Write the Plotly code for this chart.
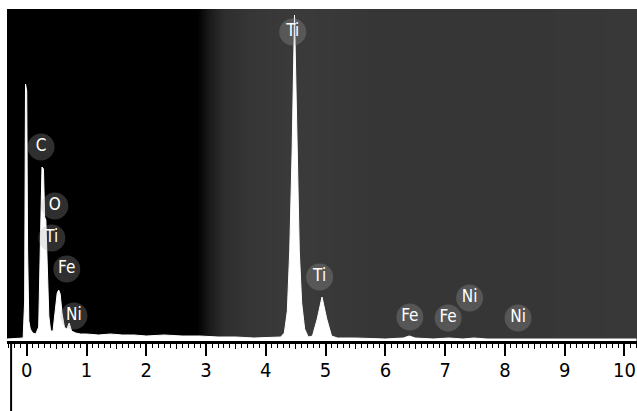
import plotly.graph_objects as go

# ---- spectrum (energy in keV, counts in arbitrary units) ----
energy = [-0.33, -0.06, -0.035, -0.02, 0.0, 0.015, 0.035, 0.06, 0.10, 0.15, 0.20,
          0.23, 0.255, 0.28, 0.30, 0.32, 0.345, 0.37, 0.40, 0.44, 0.48, 0.51, 0.535,
          0.56, 0.59, 0.63, 0.67, 0.71, 0.75, 0.82, 0.90, 1.0, 1.2, 1.4, 1.6, 1.8,
          2.0, 2.3, 2.6, 2.9, 3.2, 3.5, 3.8, 4.1, 4.25, 4.31, 4.36, 4.40, 4.44,
          4.48, 4.52, 4.56, 4.60, 4.65, 4.71, 4.78, 4.86, 4.94, 5.02, 5.10, 5.20,
          5.5, 6.0, 6.3, 6.4, 6.5, 6.8, 7.06, 7.3, 7.48, 7.7, 8.0, 8.26, 8.6, 9.0,
          9.5, 10.2]
counts = [2, 3, 40, 257, 250, 90, 20, 12, 8, 7, 14,
          95, 174, 172, 124, 121, 70, 25, 10, 10, 32, 48, 51,
          47, 28, 14, 12, 18, 10, 8, 7, 7, 6, 7, 6, 6,
          5, 6, 5, 5, 4, 4, 3, 4, 4, 8, 30, 90, 190,
          326, 190, 90, 38, 12, 4, 5, 22, 44, 22, 5, 3,
          3, 2, 3, 5, 3, 2, 3, 2, 3, 2, 2, 2, 2, 2,
          2, 2]

# ---- peak labels ----
label_text = ["C", "O", "Ti", "Fe", "Ni", "Ti", "Ti", "Fe", "Fe", "Ni", "Ni"]
label_energy = [0.24, 0.47, 0.42, 0.67, 0.79, 4.45, 4.90, 6.41, 7.05, 7.41, 8.22]
label_height = [194, 135, 103, 72, 25, 309, 64, 24, 23, 43, 23]

# ---- axis ----
x_range = [-0.33, 10.21]
y_range = [0, 332]
major_ticks = list(range(0, 11))
mid_ticks = [0.5, 1.5, 2.5, 3.5, 4.5, 5.5, 6.5, 7.5, 8.5, 9.5]

# ---- background shading (black on the left, dark grey to the right) ----
bg_x = [-0.33, 2.85, 3.05, 3.3, 3.7, 4.5, 6.0, 8.0, 10.21]
bg_level = [0.0, 0.0, 0.10, 0.18, 0.21, 0.23, 0.21, 0.21, 0.22]

NARROW = "Liberation Sans Narrow, DejaVu Sans Condensed, Arial Narrow, sans-serif"

fig = go.Figure()

fig.add_trace(go.Heatmap(
    x=bg_x, y=[0, 332], z=[bg_level, bg_level], zsmooth="best",
    colorscale=[[0, "#000000"], [1, "#ffffff"]], zmin=0, zmax=1,
    showscale=False, hoverinfo="skip"))

fig.add_trace(go.Scatter(
    x=energy, y=counts, mode="lines", fill="tozeroy",
    fillcolor="#ffffff", line=dict(color="#ffffff", width=1),
    hoverinfo="skip", showlegend=False))

# glow behind labels
fig.add_trace(go.Scatter(
    x=label_energy, y=label_height, mode="markers",
    marker=dict(size=27, color="rgba(170,170,170,0.28)", line=dict(width=0)),
    hoverinfo="skip", showlegend=False))

fig.add_trace(go.Scatter(
    x=label_energy, y=label_height, mode="text", text=label_text,
    textposition="middle center",
    textfont=dict(family=NARROW, size=17, color="#ffffff"),
    hoverinfo="skip", showlegend=False))

# invisible trace for the half-keV tick axis
fig.add_trace(go.Scatter(x=[0], y=[0], xaxis="x2", mode="markers",
                         marker=dict(opacity=0), hoverinfo="skip", showlegend=False))

fig.update_layout(
    width=637, height=411,
    margin=dict(l=7, r=0, t=9, b=70),
    paper_bgcolor="#ffffff", plot_bgcolor="#000000",
    showlegend=False,
    xaxis=dict(range=x_range, tickvals=major_ticks, ticktext=[str(t) for t in major_ticks],
               ticks="outside", ticklen=12, tickwidth=2, tickcolor="#000000",
               showline=True, linecolor="#000000", linewidth=3,
               showgrid=False, zeroline=False, ticklabelstandoff=-3,
               tickfont=dict(family=NARROW, size=20, color="#000000"),
               minor=dict(dtick=0.1, tick0=0, ticks="outside", ticklen=4,
                          tickwidth=1, tickcolor="#000000", showgrid=False)),
    xaxis2=dict(range=x_range, overlaying="x", anchor="y", side="bottom",
                tickvals=mid_ticks, ticks="outside", ticklen=7, tickwidth=1,
                tickcolor="#000000", showticklabels=False, showgrid=False,
                zeroline=False, showline=False),
    yaxis=dict(range=y_range, visible=False, showgrid=False, zeroline=False),
    shapes=[dict(type="line", xref="paper", yref="paper",
                 x0=0.0065, x1=0.0065, y0=0, y1=-0.215,
                 line=dict(color="#000000", width=2))],
)

fig.write_html("out.html")
